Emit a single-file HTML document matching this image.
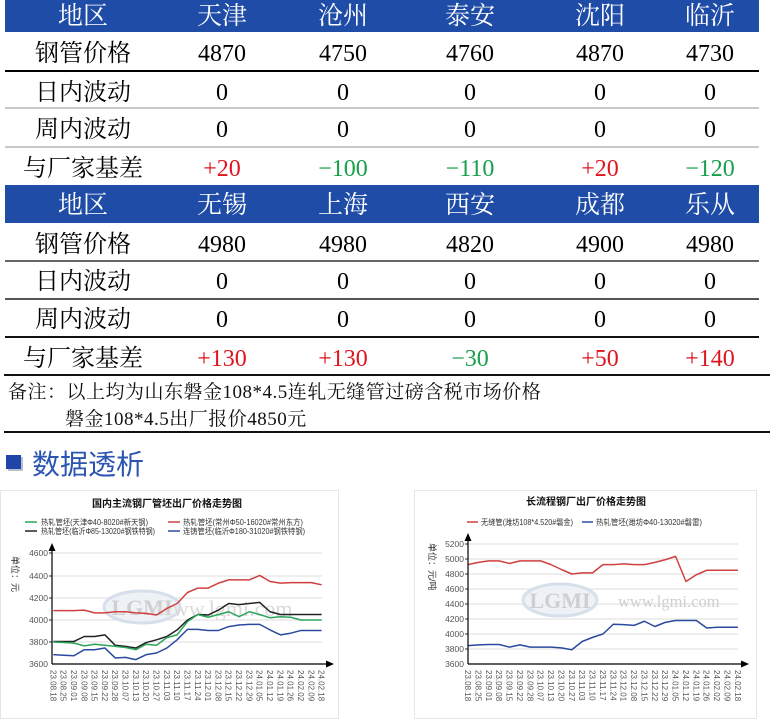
<!DOCTYPE html>
<html><head><meta charset="utf-8">
<style>
html,body{margin:0;padding:0;background:#fff;}
body{width:777px;height:726px;position:relative;overflow:hidden;font-family:"Liberation Serif","Noto Serif CJK SC",serif;}
.hb{position:absolute;left:5px;width:754px;background:#1f4ca6;}
.ln{position:absolute;left:5px;width:754px;}
.c{position:absolute;width:160px;margin-left:-80px;text-align:center;font-size:24px;line-height:38px;height:38px;color:#000;white-space:nowrap;}
.h{color:#fff;font-size:25px;}
.r{color:#e0141e;}
.g{color:#17a04c;}
.note{position:absolute;font-size:19px;line-height:26px;white-space:nowrap;color:#111;letter-spacing:0.5px;}
svg text{font-family:"Liberation Sans","Noto Sans CJK SC",sans-serif;}
</style></head><body>

<!-- top table -->
<div class="hb" style="top:0;height:32px;"></div>
<div class="hb" style="top:185px;height:38px;"></div>

<div class="ln" style="top:70px;height:2px;background:#000;"></div>
<div class="ln" style="top:107px;height:2px;background:#c8c8c8;"></div>
<div class="ln" style="top:146px;height:2px;background:#c8c8c8;"></div>
<div class="ln" style="top:260px;height:2px;background:#666;"></div>
<div class="ln" style="top:298px;height:2px;background:#555;"></div>
<div class="ln" style="top:336px;height:2px;background:#111;"></div>
<div class="ln" style="top:374px;height:2px;background:#111;left:4px;width:766px;"></div>
<div class="ln" style="top:431px;height:2px;background:#111;left:4px;width:766px;"></div>

<!-- header 1 -->
<div class="c h" style="left:83px;top:-2px;">地区</div>
<div class="c h" style="left:222px;top:-2px;">天津</div>
<div class="c h" style="left:343px;top:-2px;">沧州</div>
<div class="c h" style="left:470px;top:-2px;">泰安</div>
<div class="c h" style="left:600px;top:-2px;">沈阳</div>
<div class="c h" style="left:710px;top:-2px;">临沂</div>

<div class="c" style="left:83px;top:35px;">钢管价格</div>
<div class="c" style="left:222px;top:35px;">4870</div>
<div class="c" style="left:343px;top:35px;">4750</div>
<div class="c" style="left:470px;top:35px;">4760</div>
<div class="c" style="left:600px;top:35px;">4870</div>
<div class="c" style="left:710px;top:35px;">4730</div>

<div class="c" style="left:83px;top:74px;">日内波动</div>
<div class="c" style="left:222px;top:74px;">0</div>
<div class="c" style="left:343px;top:74px;">0</div>
<div class="c" style="left:470px;top:74px;">0</div>
<div class="c" style="left:600px;top:74px;">0</div>
<div class="c" style="left:710px;top:74px;">0</div>

<div class="c" style="left:83px;top:111px;">周内波动</div>
<div class="c" style="left:222px;top:111px;">0</div>
<div class="c" style="left:343px;top:111px;">0</div>
<div class="c" style="left:470px;top:111px;">0</div>
<div class="c" style="left:600px;top:111px;">0</div>
<div class="c" style="left:710px;top:111px;">0</div>

<div class="c" style="left:83px;top:150px;">与厂家基差</div>
<div class="c r" style="left:222px;top:150px;">+20</div>
<div class="c g" style="left:343px;top:150px;">−100</div>
<div class="c g" style="left:470px;top:150px;">−110</div>
<div class="c r" style="left:600px;top:150px;">+20</div>
<div class="c g" style="left:710px;top:150px;">−120</div>

<!-- header 2 -->
<div class="c h" style="left:83px;top:187px;">地区</div>
<div class="c h" style="left:222px;top:187px;">无锡</div>
<div class="c h" style="left:343px;top:187px;">上海</div>
<div class="c h" style="left:470px;top:187px;">西安</div>
<div class="c h" style="left:600px;top:187px;">成都</div>
<div class="c h" style="left:710px;top:187px;">乐从</div>

<div class="c" style="left:83px;top:226px;">钢管价格</div>
<div class="c" style="left:222px;top:226px;">4980</div>
<div class="c" style="left:343px;top:226px;">4980</div>
<div class="c" style="left:470px;top:226px;">4820</div>
<div class="c" style="left:600px;top:226px;">4900</div>
<div class="c" style="left:710px;top:226px;">4980</div>

<div class="c" style="left:83px;top:263px;">日内波动</div>
<div class="c" style="left:222px;top:263px;">0</div>
<div class="c" style="left:343px;top:263px;">0</div>
<div class="c" style="left:470px;top:263px;">0</div>
<div class="c" style="left:600px;top:263px;">0</div>
<div class="c" style="left:710px;top:263px;">0</div>

<div class="c" style="left:83px;top:301px;">周内波动</div>
<div class="c" style="left:222px;top:301px;">0</div>
<div class="c" style="left:343px;top:301px;">0</div>
<div class="c" style="left:470px;top:301px;">0</div>
<div class="c" style="left:600px;top:301px;">0</div>
<div class="c" style="left:710px;top:301px;">0</div>

<div class="c" style="left:83px;top:340px;">与厂家基差</div>
<div class="c r" style="left:222px;top:340px;">+130</div>
<div class="c r" style="left:343px;top:340px;">+130</div>
<div class="c g" style="left:470px;top:340px;">−30</div>
<div class="c r" style="left:600px;top:340px;">+50</div>
<div class="c r" style="left:710px;top:340px;">+140</div>

<!-- notes -->
<div class="note" style="left:8px;top:380px;">备注：以上均为山东磐金108*4.5连轧无缝管过磅含税市场价格</div>
<div class="note" style="left:65px;top:407px;">磐金108*4.5出厂报价4850元</div>

<!-- heading -->
<div style="position:absolute;left:6px;top:455px;width:15px;height:14px;background:#1f45a8;box-shadow:2px 2px 0 #b8c0d0;"></div>
<div style="position:absolute;left:32px;top:445px;font-family:'Liberation Sans','Noto Sans CJK SC',sans-serif;font-size:28px;line-height:40px;color:#2b55b0;white-space:nowrap;">数据透析</div>

<svg width="777" height="726" viewBox="0 0 777 726" style="position:absolute;left:0;top:0;">
  <!-- panels -->
  <rect x="0.5" y="490.5" width="338" height="228" fill="#fff" stroke="#e6e6e6"/>
  <rect x="414.5" y="490.5" width="342" height="228" fill="#fff" stroke="#e6e6e6"/>

  <!-- ===== LEFT CHART ===== -->
  <text x="167" y="507" text-anchor="middle" font-size="10" font-weight="bold" fill="#111">国内主流钢厂管坯出厂价格走势图</text>
  <line x1="25" y1="522" x2="37" y2="522" stroke="#2aa55a" stroke-width="1.5"/>
  <text x="41" y="525" font-size="8" fill="#333" textLength="107" lengthAdjust="spacingAndGlyphs">热轧管坯(天津Φ40-8020#新天钢)</text>
  <line x1="168" y1="522" x2="180" y2="522" stroke="#d04040" stroke-width="1.5"/>
  <text x="183" y="525" font-size="8" fill="#333" textLength="120" lengthAdjust="spacingAndGlyphs">热轧管坯(常州Φ50-16020#常州东方)</text>
  <line x1="25" y1="531" x2="37" y2="531" stroke="#222" stroke-width="1.5"/>
  <text x="41" y="534" font-size="8" fill="#333" textLength="114" lengthAdjust="spacingAndGlyphs">热轧管坯(临沂Φ85-13020#钢铁特钢)</text>
  <line x1="168" y1="531" x2="180" y2="531" stroke="#2a4aa0" stroke-width="1.5"/>
  <text x="183" y="534" font-size="8" fill="#333" textLength="122" lengthAdjust="spacingAndGlyphs">连铸管坯(临沂Φ180-31020#钢铁特钢)</text>

  <g stroke="#dcdcdc" stroke-width="1">
    <line x1="52" y1="553" x2="322" y2="553"/>
    <line x1="52" y1="576" x2="322" y2="576"/>
    <line x1="52" y1="598" x2="322" y2="598"/>
    <line x1="52" y1="620" x2="322" y2="620"/>
    <line x1="52" y1="642" x2="322" y2="642"/>
  </g>
  <!-- watermark -->
  <ellipse cx="142" cy="607" rx="38" ry="16" fill="#eef2f7" stroke="#d7dfea" stroke-width="3"/>
  <text x="142" y="615" text-anchor="middle" font-size="22" font-weight="bold" fill="#cfcfcf" style="font-family:'Liberation Serif',serif">LGMI</text>
  <text x="157" y="616" font-size="22" fill="#dadada" style="font-family:'Liberation Serif',serif">www.lgmi.com</text>

  <g font-size="8.5" fill="#555" text-anchor="end">
    <text x="48" y="556">4600</text>
    <text x="48" y="579">4400</text>
    <text x="48" y="601">4200</text>
    <text x="48" y="623">4000</text>
    <text x="48" y="645">3800</text>
    <text x="48" y="667">3600</text>
  </g>
  <g stroke="#333" stroke-width="1">
    <line x1="49" y1="553" x2="52" y2="553"/><line x1="49" y1="576" x2="52" y2="576"/>
    <line x1="49" y1="598" x2="52" y2="598"/><line x1="49" y1="620" x2="52" y2="620"/>
    <line x1="49" y1="642" x2="52" y2="642"/>
  </g>
  <text transform="translate(12,556) rotate(90)" font-size="9" fill="#333">单位：元</text>

  <g fill="none" stroke-width="1.5" stroke-linejoin="round" transform="translate(53.3,664) scale(10.32,-0.11)">
    <polyline vector-effect="non-scaling-stroke" stroke="#d04040" points="0,485 1,485 2,485 3,490 4,465 5,465 6,475 7,475 8,465 9,460 10,445 11,505 12,550 13,650 14,690 15,690 16,735 17,765 18,765 19,765 20,805 21,750 22,735 23,740 24,740 25,740 26,720"/>
    <polyline vector-effect="non-scaling-stroke" stroke="#222" points="0,205 1,205 2,205 3,250 4,250 5,265 6,170 7,160 8,145 9,195 10,220 11,250 12,310 13,400 14,450 15,445 16,490 17,550 18,540 19,550 20,560 21,475 22,450 23,450 24,450 25,450 26,450"/>
    <polyline vector-effect="non-scaling-stroke" stroke="#2aa55a" points="0,200 1,195 2,190 3,165 4,180 5,170 6,160 7,150 8,130 9,180 10,170 11,240 12,265 13,385 14,450 15,425 16,450 17,475 18,430 19,475 20,450 21,420 22,430 23,425 24,400 25,400 26,400"/>
    <polyline vector-effect="non-scaling-stroke" stroke="#2a4aa0" points="0,85 1,80 2,75 3,130 4,130 5,145 6,55 7,60 8,40 9,85 10,100 11,145 12,220 13,315 14,315 15,305 16,305 17,340 18,355 19,360 20,360 21,310 22,265 23,280 24,305 25,305 26,305"/>
  </g>

  <!-- axes -->
  <line x1="52" y1="664" x2="52" y2="549" stroke="#000" stroke-width="1.2"/>
  <polygon points="52,543 48.5,551 55.5,551" fill="#000"/>
  <line x1="52" y1="664" x2="328" y2="664" stroke="#000" stroke-width="1.2"/>
  <polygon points="334,664 326,660.5 326,667.5" fill="#000"/>

  <g font-size="8" fill="#555">
    <text transform="translate(53.3,670) rotate(90)" y="3">23.08.18</text>
    <text transform="translate(63.6,670) rotate(90)" y="3">23.08.25</text>
    <text transform="translate(74.0,670) rotate(90)" y="3">23.09.01</text>
    <text transform="translate(84.3,670) rotate(90)" y="3">23.09.08</text>
    <text transform="translate(94.6,670) rotate(90)" y="3">23.09.15</text>
    <text transform="translate(104.9,670) rotate(90)" y="3">23.09.22</text>
    <text transform="translate(115.2,670) rotate(90)" y="3">23.09.28</text>
    <text transform="translate(125.5,670) rotate(90)" y="3">23.10.07</text>
    <text transform="translate(135.9,670) rotate(90)" y="3">23.10.13</text>
    <text transform="translate(146.2,670) rotate(90)" y="3">23.10.20</text>
    <text transform="translate(156.5,670) rotate(90)" y="3">23.10.27</text>
    <text transform="translate(166.8,670) rotate(90)" y="3">23.11.03</text>
    <text transform="translate(177.1,670) rotate(90)" y="3">23.11.10</text>
    <text transform="translate(187.5,670) rotate(90)" y="3">23.11.17</text>
    <text transform="translate(197.8,670) rotate(90)" y="3">23.11.24</text>
    <text transform="translate(208.1,670) rotate(90)" y="3">23.12.01</text>
    <text transform="translate(218.4,670) rotate(90)" y="3">23.12.08</text>
    <text transform="translate(228.7,670) rotate(90)" y="3">23.12.15</text>
    <text transform="translate(239.1,670) rotate(90)" y="3">23.12.22</text>
    <text transform="translate(249.4,670) rotate(90)" y="3">23.12.29</text>
    <text transform="translate(259.7,670) rotate(90)" y="3">24.01.05</text>
    <text transform="translate(270.0,670) rotate(90)" y="3">24.01.12</text>
    <text transform="translate(280.3,670) rotate(90)" y="3">24.01.19</text>
    <text transform="translate(290.7,670) rotate(90)" y="3">24.01.26</text>
    <text transform="translate(301.0,670) rotate(90)" y="3">24.02.02</text>
    <text transform="translate(311.3,670) rotate(90)" y="3">24.02.09</text>
    <text transform="translate(321.6,670) rotate(90)" y="3">24.02.18</text>
  </g>

  <!-- ===== RIGHT CHART ===== -->
  <text x="586" y="505" text-anchor="middle" font-size="10" font-weight="bold" fill="#111">长流程钢厂出厂价格走势图</text>
  <line x1="467" y1="522" x2="478" y2="522" stroke="#d04040" stroke-width="1.5"/>
  <text x="481" y="525" font-size="8" fill="#333" textLength="92" lengthAdjust="spacingAndGlyphs">无缝管(潍坊108*4.520#磐金)</text>
  <line x1="582" y1="522" x2="593" y2="522" stroke="#2a4aa0" stroke-width="1.5"/>
  <text x="596" y="525" font-size="8" fill="#333" textLength="106" lengthAdjust="spacingAndGlyphs">热轧管坯(潍坊Φ40-13020#磐雷)</text>

  <g stroke="#dcdcdc" stroke-width="1">
    <line x1="468" y1="544" x2="738" y2="544"/>
    <line x1="468" y1="559" x2="738" y2="559"/>
    <line x1="468" y1="574" x2="738" y2="574"/>
    <line x1="468" y1="589" x2="738" y2="589"/>
    <line x1="468" y1="604" x2="738" y2="604"/>
    <line x1="468" y1="619" x2="738" y2="619"/>
    <line x1="468" y1="634" x2="738" y2="634"/>
    <line x1="468" y1="649" x2="738" y2="649"/>
  </g>
  <ellipse cx="560" cy="600" rx="37" ry="16" fill="#eef2f7" stroke="#d7dfea" stroke-width="3"/>
  <text x="560" y="608" text-anchor="middle" font-size="22" font-weight="bold" fill="#cfcfcf" style="font-family:'Liberation Serif',serif">LGMI</text>
  <text x="618" y="607" font-size="16.5" fill="#cfcfcf" style="font-family:'Liberation Serif',serif">www.lgmi.com</text>

  <g font-size="8.5" fill="#555" text-anchor="end">
    <text x="464" y="547">5200</text>
    <text x="464" y="562">5000</text>
    <text x="464" y="577">4800</text>
    <text x="464" y="592">4600</text>
    <text x="464" y="607">4400</text>
    <text x="464" y="622">4200</text>
    <text x="464" y="637">4000</text>
    <text x="464" y="652">3800</text>
    <text x="464" y="667">3600</text>
  </g>
  <g stroke="#333" stroke-width="1">
    <line x1="465" y1="544" x2="468" y2="544"/><line x1="465" y1="559" x2="468" y2="559"/>
    <line x1="465" y1="574" x2="468" y2="574"/><line x1="465" y1="589" x2="468" y2="589"/>
    <line x1="465" y1="604" x2="468" y2="604"/><line x1="465" y1="619" x2="468" y2="619"/>
    <line x1="465" y1="634" x2="468" y2="634"/><line x1="465" y1="649" x2="468" y2="649"/>
  </g>
  <text transform="translate(429,543) rotate(90)" font-size="9" fill="#333">单位：元/吨</text>

  <g fill="none" stroke-width="1.5" stroke-linejoin="round" transform="translate(468,664) scale(10.38,-0.075)">
    <polyline vector-effect="non-scaling-stroke" stroke="#d04040" points="0,1325 1,1355 2,1375 3,1375 4,1340 5,1375 6,1375 7,1375 8,1325 9,1260 10,1200 11,1215 12,1215 13,1325 14,1325 15,1335 16,1325 17,1325 18,1355 19,1390 20,1435 21,1100 22,1190 23,1250 24,1250 25,1250 26,1250"/>
    <polyline vector-effect="non-scaling-stroke" stroke="#2a4aa0" points="0,245 1,255 2,260 3,260 4,225 5,255 6,225 7,225 8,225 9,215 10,190 11,300 12,355 13,400 14,530 15,525 16,515 17,570 18,500 19,555 20,580 21,580 22,580 23,480 24,490 25,490 26,490"/>
  </g>

  <line x1="468" y1="664" x2="468" y2="539" stroke="#000" stroke-width="1.2"/>
  <polygon points="468,533 464.5,541 471.5,541" fill="#000"/>
  <line x1="468" y1="664" x2="743" y2="664" stroke="#000" stroke-width="1.2"/>
  <polygon points="749,664 741,660.5 741,667.5" fill="#000"/>

  <g font-size="8" fill="#555">
    <text transform="translate(468.0,670) rotate(90)" y="3">23.08.18</text>
    <text transform="translate(478.4,670) rotate(90)" y="3">23.08.25</text>
    <text transform="translate(488.8,670) rotate(90)" y="3">23.09.01</text>
    <text transform="translate(499.1,670) rotate(90)" y="3">23.09.08</text>
    <text transform="translate(509.5,670) rotate(90)" y="3">23.09.15</text>
    <text transform="translate(519.9,670) rotate(90)" y="3">23.09.22</text>
    <text transform="translate(530.3,670) rotate(90)" y="3">23.09.28</text>
    <text transform="translate(540.7,670) rotate(90)" y="3">23.10.07</text>
    <text transform="translate(551.0,670) rotate(90)" y="3">23.10.13</text>
    <text transform="translate(561.4,670) rotate(90)" y="3">23.10.20</text>
    <text transform="translate(571.8,670) rotate(90)" y="3">23.10.27</text>
    <text transform="translate(582.2,670) rotate(90)" y="3">23.11.03</text>
    <text transform="translate(592.6,670) rotate(90)" y="3">23.11.10</text>
    <text transform="translate(602.9,670) rotate(90)" y="3">23.11.17</text>
    <text transform="translate(613.3,670) rotate(90)" y="3">23.11.24</text>
    <text transform="translate(623.7,670) rotate(90)" y="3">23.12.01</text>
    <text transform="translate(634.1,670) rotate(90)" y="3">23.12.08</text>
    <text transform="translate(644.5,670) rotate(90)" y="3">23.12.15</text>
    <text transform="translate(654.8,670) rotate(90)" y="3">23.12.22</text>
    <text transform="translate(665.2,670) rotate(90)" y="3">23.12.29</text>
    <text transform="translate(675.6,670) rotate(90)" y="3">24.01.05</text>
    <text transform="translate(686.0,670) rotate(90)" y="3">24.01.12</text>
    <text transform="translate(696.4,670) rotate(90)" y="3">24.01.19</text>
    <text transform="translate(706.7,670) rotate(90)" y="3">24.01.26</text>
    <text transform="translate(717.1,670) rotate(90)" y="3">24.02.02</text>
    <text transform="translate(727.5,670) rotate(90)" y="3">24.02.09</text>
    <text transform="translate(737.9,670) rotate(90)" y="3">24.02.18</text>
  </g>
</svg>
</body></html>
